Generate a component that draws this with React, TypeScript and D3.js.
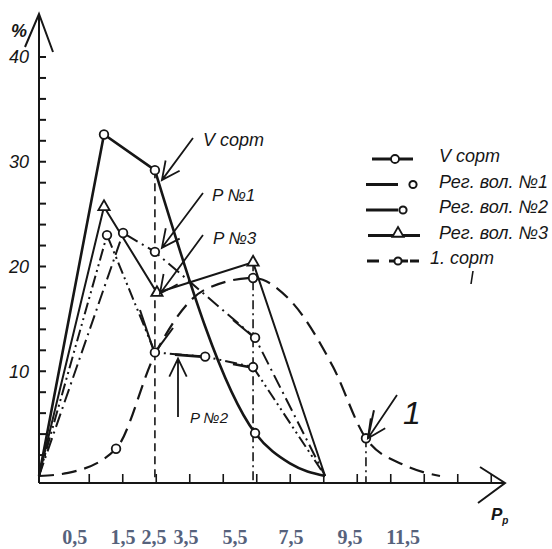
import { useEffect, useRef } from 'react'
import * as d3 from 'd3'

// x: position along the P_p axis (class units), y: share in %
const vSortX = [0, 1.94, 3.46, 6.45, 7.49, 8.54]
const vSortY = [0, 32.6, 29.2, 4.1, 1.2, 0]
const vSortMarks = [1, 2, 3]

const reg1X = [0, 2.51, 3.46, 6.45, 8.54]
const reg1Y = [0, 23.2, 21.4, 13.2, 0]
const reg1Marks = [1, 2, 3]

const reg2X = [0, 2.03, 3.46, 4.96, 6.39, 8.54]
const reg2Y = [0, 23.0, 11.8, 11.4, 10.4, 0]
const reg2Marks = [1, 2, 3, 4]

const reg3X = [0, 1.94, 3.52, 6.39, 8.54]
const reg3Y = [0, 25.7, 17.5, 20.4, 0]
const reg3Marks = [1, 2, 3]

const sort1X = [0, 0.87, 2.3, 3.46, 4.96, 6.39, 7.49, 8.78, 9.76, 10.93, 11.97]
const sort1Y = [0, 0.3, 2.6, 11.6, 17.8, 18.9, 16.8, 10.4, 3.6, 1.0, 0]
const sort1Marks = [2, 5, 8]

const yTickLabels = [10, 20, 30, 40]
const yMinorTicks = d3.range(2, 41, 2)
const xMinorTicks = d3.range(1.5, 14, 1)

const bottomLabels = ['0,5', '1,5', '2,5', '3,5', '5,5', '7,5', '9,5', '11,5']
const bottomLabelAt = [1.07, 2.51, 3.43, 4.39, 5.85, 7.52, 9.28, 10.87]

const legendNames = ['V сорт', 'Рег. вол. №1', 'Рег. вол. №2', 'Рег. вол. №3', '1. сорт']

export default function App() {
  const svgRef = useRef<SVGSVGElement>(null)

  useEffect(() => {
    document.body.style.margin = '0'
    const svg = d3.select(svgRef.current)
    svg.selectAll('*').remove()

    const ink = '#161616'
    const font = '"Liberation Sans", Arial, sans-serif'
    const x = d3.scaleLinear().domain([0, 14]).range([39, 508])
    const y = d3.scaleLinear().domain([0, 40]).range([476, 57])
    const axisY = y(0) + 7
    const g = svg.append('g')

    // axes with hand-drawn arrows
    g.append('line').attr('x1', x(0)).attr('x2', x(0)).attr('y1', axisY).attr('y2', 14)
      .attr('stroke', ink).attr('stroke-width', 2)
    g.append('path').attr('d', `M${x(0) - 14},47 L${x(0)},14 L${x(0) + 14},52`)
      .attr('fill', 'none').attr('stroke', ink).attr('stroke-width', 2)
    g.append('line').attr('x1', x(0)).attr('x2', 505).attr('y1', axisY).attr('y2', axisY)
      .attr('stroke', ink).attr('stroke-width', 2)
    g.append('path').attr('d', `M480,${axisY - 16} L505,${axisY} L478,${axisY + 20}`)
      .attr('fill', 'none').attr('stroke', ink).attr('stroke-width', 2)

    yMinorTicks.forEach(v => {
      g.append('line').attr('x1', x(0)).attr('x2', x(0) + 7).attr('y1', y(v)).attr('y2', y(v))
        .attr('stroke', ink).attr('stroke-width', 2)
    })
    xMinorTicks.forEach(v => {
      g.append('line').attr('x1', x(v)).attr('x2', x(v)).attr('y1', axisY).attr('y2', axisY - 9)
        .attr('stroke', ink).attr('stroke-width', 1.6)
    })

    yTickLabels.forEach(v => {
      g.append('text').attr('x', 19).attr('y', y(v)).attr('dy', '0.36em')
        .attr('text-anchor', 'middle').attr('font-family', font).attr('font-style', 'italic')
        .attr('font-size', 18).attr('fill', ink).text(v)
    })
    g.append('text').attr('x', 11).attr('y', 37).attr('font-family', font)
      .attr('font-style', 'italic').attr('font-weight', 'bold').attr('font-size', 18)
      .attr('fill', ink).text('%')

    const pp = g.append('text').attr('x', 491).attr('y', 520).attr('font-family', font)
      .attr('font-style', 'italic').attr('font-weight', 'bold').attr('font-size', 17).attr('fill', ink)
    pp.append('tspan').text('P')
    pp.append('tspan').attr('font-size', 10).attr('dy', 4).text('p')

    bottomLabels.forEach((t, i) => {
      g.append('text').attr('x', x(bottomLabelAt[i])).attr('y', 544)
        .attr('text-anchor', 'middle').attr('font-family', '"Liberation Serif", "Times New Roman", serif')
        .attr('font-weight', 'bold').attr('font-size', 20).attr('fill', '#56627c').text(t)
    })

    // drop lines
    const drop = (xv: number, yv: number, dash: string) => {
      g.append('line').attr('x1', x(xv)).attr('x2', x(xv)).attr('y1', y(yv)).attr('y2', axisY)
        .attr('stroke', ink).attr('stroke-width', 1.6).attr('stroke-dasharray', dash)
    }
    drop(vSortX[2], vSortY[2], '8 5')
    drop(reg3X[3], reg3Y[3], '9 4 2 4')
    drop(sort1X[8], sort1Y[8], '9 4 2 4')

    type Pt = [number, number]
    const zip = (xs: number[], ys: number[]): Pt[] => xs.map((v, i) => [v, ys[i]])
    const line = d3.line<Pt>().x(d => x(d[0])).y(d => y(d[1]))

    const vPts = zip(vSortX, vSortY)
    const series = [
      { pts: zip(sort1X, sort1Y), marks: sort1Marks, dash: '15 8', w: 2.2, tri: false },
      { pts: zip(reg2X, reg2Y), marks: reg2Marks, dash: '12 4 2 4 2 4', w: 2, tri: false },
      { pts: zip(reg1X, reg1Y), marks: reg1Marks, dash: '14 5 2 5', w: 2, tri: false },
      { pts: zip(reg3X, reg3Y), marks: reg3Marks, dash: null, w: 2, tri: true },
      { pts: vPts, marks: vSortMarks, dash: null, w: 2.6, tri: false },
    ]

    const triangle = d3.symbol().type(d3.symbolTriangle).size(55)

    // I сорт is a smooth curve, the rest are broken lines; V сорт bends into a curve after its 2nd peak
    g.append('path').datum(series[0].pts).attr('d', line.curve(d3.curveMonotoneX))
      .attr('fill', 'none').attr('stroke', ink).attr('stroke-width', series[0].w)
      .attr('stroke-dasharray', series[0].dash)
    series.slice(1, 4).forEach(s => {
      g.append('path').datum(s.pts).attr('d', line.curve(d3.curveLinear))
        .attr('fill', 'none').attr('stroke', ink).attr('stroke-width', s.w)
        .attr('stroke-dasharray', s.dash)
    })
    g.append('path').datum(vPts.slice(0, 3)).attr('d', line.curve(d3.curveLinear))
      .attr('fill', 'none').attr('stroke', ink).attr('stroke-width', 2.6)
    g.append('path').datum(vPts.slice(2)).attr('d', line.curve(d3.curveMonotoneX))
      .attr('fill', 'none').attr('stroke', ink).attr('stroke-width', 2.6)

    series.forEach(s => {
      s.marks.forEach(i => {
        const [px, py] = s.pts[i]
        if (s.tri) {
          g.append('path').attr('d', triangle()).attr('transform', `translate(${x(px)},${y(py)})`)
            .attr('fill', '#fff').attr('stroke', ink).attr('stroke-width', 1.8)
        } else {
          g.append('circle').attr('cx', x(px)).attr('cy', y(py)).attr('r', 4.3)
            .attr('fill', '#fff').attr('stroke', ink).attr('stroke-width', 1.8)
        }
      })
    })

    // annotation arrows
    const arrow = (tx: number, ty: number, sx: number, sy: number) => {
      const a = Math.atan2(sy - ty, sx - tx)
      const L = 20, s = 0.45
      const p1 = [tx + L * Math.cos(a - s), ty + L * Math.sin(a - s)]
      const p2 = [tx + L * Math.cos(a + s), ty + L * Math.sin(a + s)]
      g.append('path')
        .attr('d', `M${sx},${sy} L${tx},${ty} M${p1[0]},${p1[1]} L${tx},${ty} L${p2[0]},${p2[1]}`)
        .attr('fill', 'none').attr('stroke', ink).attr('stroke-width', 1.8)
    }
    arrow(x(vSortX[2]) + 7, y(vSortY[2]) + 10, 193, 138)
    arrow(x(reg1X[2]) + 7, y(reg1Y[2]) - 4, 203, 193)
    arrow(x(reg3X[2]) + 3, y(reg3Y[2]) + 1, 203, 235)
    arrow(178, y(reg2Y[3]) + 2, 178, 417)
    arrow(x(sort1X[8]) + 2, y(sort1Y[8]), 397, 395)

    // small callout strokes into the points
    const stroke = (x1: number, y1: number, x2: number, y2: number, w = 2) => {
      g.append('line').attr('x1', x1).attr('y1', y1).attr('x2', x2).attr('y2', y2)
        .attr('stroke', ink).attr('stroke-width', w)
    }
    stroke(175, y(reg2Y[3]) - 2, x(reg2X[3]) - 4, y(reg2Y[3]), 2.6)
    stroke(233, y(reg2Y[4]) - 3, x(reg2X[4]) - 4, y(reg2Y[4]), 2.6)
    stroke(233, 320, x(reg1X[3]) - 3, y(reg1Y[3]) - 2)
    stroke(140, 310, x(reg2X[2]) - 2, y(reg2Y[2]) - 4)
    stroke(173, 328, x(reg2X[2]) + 3, y(reg2Y[2]) - 4)
    stroke(x(sort1X[8]) + 8, y(sort1Y[8]) - 28, x(sort1X[8]) + 2, y(sort1Y[8]))

    const note = (t: string, tx: number, ty: number, size: number) => {
      g.append('text').attr('x', tx).attr('y', ty).attr('font-family', font)
        .attr('font-style', 'italic').attr('font-size', size).attr('fill', ink).text(t)
    }
    note('V сорт', 203, 146, 18)
    note('P №1', 212, 201, 17)
    note('P №3', 213, 244, 17)
    note('P №2', 190, 423, 15)
    g.append('text').attr('x', 403).attr('y', 424).attr('font-family', font)
      .attr('font-style', 'italic').attr('font-size', 32)
      .attr('fill', ink).text('1')

    // legend
    const lg = svg.append('g')
    legendNames.forEach((name, i) => {
      const ly = 156 + i * 25.5
      const my = ly + 3
      if (i === 0) {
        lg.append('line').attr('x1', 372).attr('x2', 413).attr('y1', my).attr('y2', my)
          .attr('stroke', ink).attr('stroke-width', 3)
        lg.append('circle').attr('cx', 395).attr('cy', my).attr('r', 4)
          .attr('fill', '#fff').attr('stroke', ink).attr('stroke-width', 1.8)
      } else if (i === 1 || i === 2) {
        lg.append('line').attr('x1', 366).attr('x2', 398).attr('y1', my).attr('y2', my)
          .attr('stroke', ink).attr('stroke-width', 3)
        lg.append('circle').attr('cx', i === 1 ? 413 : 403).attr('cy', my).attr('r', 3.6)
          .attr('fill', '#fff').attr('stroke', ink).attr('stroke-width', 2)
      } else if (i === 3) {
        lg.append('line').attr('x1', 368).attr('x2', 420).attr('y1', my).attr('y2', my)
          .attr('stroke', ink).attr('stroke-width', 3)
        lg.append('path').attr('d', triangle()).attr('transform', `translate(398,${my - 2})`)
          .attr('fill', '#fff').attr('stroke', ink).attr('stroke-width', 1.8)
      } else {
        lg.append('line').attr('x1', 367).attr('x2', 379).attr('y1', my).attr('y2', my)
          .attr('stroke', ink).attr('stroke-width', 3)
        lg.append('line').attr('x1', 389).attr('x2', 419).attr('y1', my).attr('y2', my)
          .attr('stroke', ink).attr('stroke-width', 3).attr('stroke-dasharray', '19 2 9')
        lg.append('circle').attr('cx', 398).attr('cy', my).attr('r', 3.6)
          .attr('fill', '#fff').attr('stroke', ink).attr('stroke-width', 2)
        lg.append('line').attr('x1', 473).attr('x2', 471).attr('y1', ly + 13).attr('y2', ly + 26)
          .attr('stroke', ink).attr('stroke-width', 1.6)
      }
      lg.append('text').attr('x', i === 4 ? 430 : 439).attr('y', ly).attr('dy', '0.36em')
        .attr('font-family', font).attr('font-style', 'italic').attr('font-size', 18)
        .attr('fill', ink).text(name)
    })
  }, [])

  return (
    <svg
      ref={svgRef}
      width={552}
      height={549}
      style={{ position: 'absolute', left: 0, top: 0, background: '#fff', display: 'block' }}
    />
  )
}
